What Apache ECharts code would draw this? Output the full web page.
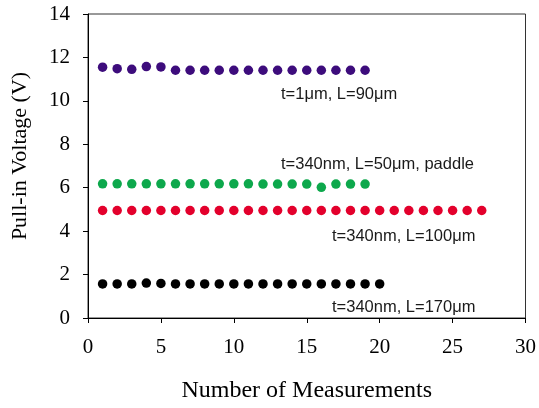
<!DOCTYPE html>
<html>
<head>
<meta charset="utf-8">
<script src="https://cdn.jsdelivr.net/npm/echarts@6/dist/echarts.min.js"></script>
<style>
	html, body { margin: 0; padding: 0; background: #fff; }
	#chart { width: 539px; height: 408px; }
</style>
</head>
<body>
<div id="chart"></div>
<script>
// measurement number is the index + 1
var purpleV = [11.55, 11.48, 11.45, 11.58, 11.56, 11.41, 11.41, 11.41, 11.41, 11.41,
	11.41, 11.41, 11.41, 11.41, 11.41, 11.41, 11.41, 11.41, 11.41];
var greenV = [6.18, 6.18, 6.18, 6.18, 6.18, 6.18, 6.18, 6.18, 6.18, 6.18,
	6.18, 6.17, 6.17, 6.17, 6.17, 6.02, 6.17, 6.17, 6.17];
var redV = [4.95, 4.95, 4.95, 4.95, 4.95, 4.95, 4.95, 4.95, 4.95, 4.95,
	4.95, 4.95, 4.95, 4.95, 4.95, 4.95, 4.95, 4.95, 4.95, 4.95,
	4.95, 4.95, 4.95, 4.95, 4.95, 4.95, 4.95];
var blackV = [1.57, 1.57, 1.57, 1.61, 1.59, 1.57, 1.57, 1.57, 1.57, 1.57,
	1.57, 1.57, 1.57, 1.57, 1.57, 1.57, 1.57, 1.57, 1.57, 1.57];
var labels = ['t=1\u03bcm, L=90\u03bcm', 't=340nm, L=50\u03bcm, paddle',
	't=340nm, L=100\u03bcm', 't=340nm, L=170\u03bcm'];

(function() {
	var myChart = echarts.init(document.getElementById('chart'));

	function pts(arr) {
		return arr.map(function(v, i) { return [i + 1, v]; });
	}
	function dots(arr, color) {
		return {
			type: 'scatter',
			data: pts(arr),
			symbolSize: 9.5,
			itemStyle: { color: color, opacity: 1 },
			silent: true
		};
	}
	var serif = '"Liberation Serif", "Times New Roman", serif';
	var sans = '"Liberation Sans", Arial, sans-serif';

	// label anchors (pixels)
	var labelPos = [[281, 95], [281, 165], [332, 237], [332, 308]];

	var option = {
		animation: false,
		backgroundColor: '#fff',
		grid: {
			left: 88, right: 12, top: 14, bottom: 86,
			show: true, borderColor: '#333', borderWidth: 1, backgroundColor: 'transparent'
		},
		xAxis: {
			type: 'value', min: 0, max: 30, interval: 5,
			name: 'Number of Measurements',
			nameLocation: 'middle', nameGap: 61,
			nameTextStyle: { fontFamily: serif, fontSize: 24, color: '#000' },
			axisLine: { lineStyle: { color: '#000', width: 1 } },
			axisTick: { show: true, length: 5, lineStyle: { color: '#000' } },
			axisLabel: { fontFamily: serif, fontSize: 21, color: '#000', margin: 19 },
			splitLine: { show: false }
		},
		yAxis: {
			type: 'value', min: 0, max: 14, interval: 2,
			name: 'Pull-in Voltage (V)',
			nameLocation: 'middle', nameGap: 57,
			nameTextStyle: { fontFamily: serif, fontSize: 22, color: '#000', padding: [0, 0, 0, 20] },
			axisLine: { show: true, lineStyle: { color: '#000', width: 1 } },
			axisTick: { show: true, length: 5, lineStyle: { color: '#000' } },
			axisLabel: { fontFamily: serif, fontSize: 21, color: '#000', margin: 18 },
			splitLine: { show: false }
		},
		graphic: labels.map(function(t, i) {
			return {
				type: 'text', left: labelPos[i][0], top: labelPos[i][1] - 9,
				style: { text: t, fontFamily: sans, fontSize: 16.5, fill: '#1a1a1a' }
			};
		}),
		series: [
			dots(purpleV, '#3d0c7c'),
			dots(greenV, '#0da84c'),
			dots(redV, '#e3002c'),
			dots(blackV, '#000000')
		]
	};
	myChart.setOption(option);
	window.addEventListener("resize", function() {
		myChart.resize();
	});
})();
</script>
</body>
</html>
